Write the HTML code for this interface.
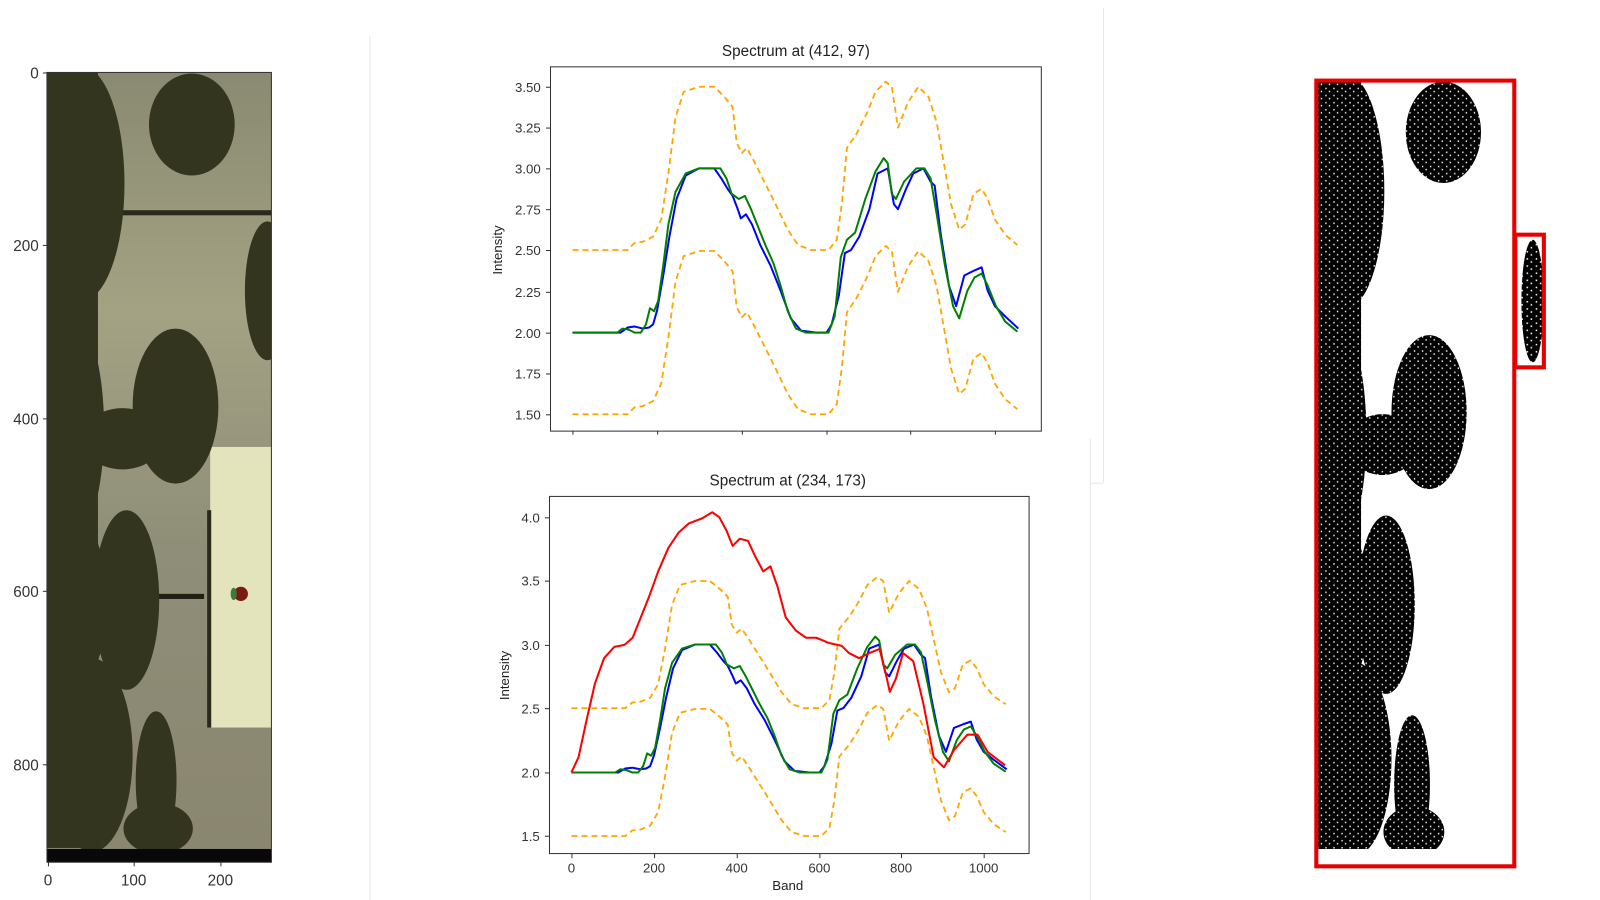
<!DOCTYPE html>
<html><head><meta charset="utf-8"><style>
html,body{margin:0;padding:0;background:#fff;}
svg{display:block;font-family:"Liberation Sans","DejaVu Sans",sans-serif;}
</style></head><body>
<svg width="1600" height="900" viewBox="0 0 1600 900" xmlns="http://www.w3.org/2000/svg">
<defs>
<g id="leaves">
  <ellipse cx="80" cy="180" rx="42" ry="115"/>
  <ellipse cx="188" cy="122" rx="42" ry="50"/>
  <ellipse cx="172" cy="398" rx="42" ry="76"/>
  <ellipse cx="124" cy="588" rx="32" ry="88"/>
  <ellipse cx="90" cy="740" rx="40" ry="95"/>
  <ellipse cx="153" cy="765" rx="20" ry="68"/>
  <ellipse cx="155" cy="812" rx="34" ry="25"/>
  <ellipse cx="70" cy="420" rx="32" ry="110"/>
  <ellipse cx="75" cy="590" rx="30" ry="80"/>
  <rect x="46" y="71" width="50" height="760"/>
  <ellipse cx="120" cy="430" rx="40" ry="30"/>
</g>
<clipPath id="cl"><rect x="46" y="71" width="220" height="774"/></clipPath>
<clipPath id="cr"><rect x="1290" y="79" width="193" height="769"/></clipPath>
<pattern id="speck" width="9" height="7" patternUnits="userSpaceOnUse">
  <rect width="9" height="7" fill="#000"/>
  <rect x="2" y="1" width="1.5" height="1.5" fill="#fff"/>
  <rect x="6" y="4" width="1.5" height="1.5" fill="#fff"/>
</pattern>
<linearGradient id="bg" x1="0" y1="0" x2="0" y2="1">
  <stop offset="0" stop-color="#8a8a72"/><stop offset="0.3" stop-color="#a3a283"/>
  <stop offset="0.6" stop-color="#8f8e78"/><stop offset="1" stop-color="#8a8670"/>
</linearGradient>
</defs>
<g transform="scale(1.0204)">

<g stroke="#e6e6e6" stroke-width="1">
<line x1="362.5" y1="35" x2="362.5" y2="882"/>
<line x1="1081.5" y1="8" x2="1081.5" y2="473"/>
<line x1="1068" y1="473.5" x2="1081" y2="473.5"/>
<line x1="1068.5" y1="430" x2="1068.5" y2="882"/>
</g>

<!-- LEFT IMAGE -->
<g>
<g clip-path="url(#cl)">
<rect x="46" y="71" width="220" height="774" fill="url(#bg)"/>
<rect x="112" y="206" width="154" height="5" fill="#2a2a1c"/>
<rect x="206" y="438" width="60" height="275" fill="#e4e4bc"/>
<rect x="203" y="500" width="4" height="213" fill="#2a2a1c"/>
<rect x="138" y="582" width="62" height="5" fill="#1f1f14"/>
<g fill="#34351f"><use href="#leaves"/><ellipse cx="262" cy="285" rx="22" ry="68"/></g>
<circle cx="236" cy="582" r="7" fill="#7a1a14"/>
<ellipse cx="229" cy="582" rx="3" ry="6" fill="#3c7a3a"/>
<rect x="46" y="832" width="220" height="13" fill="#080808"/>
</g>
<rect x="46" y="71" width="220" height="774" fill="none" stroke="#333" stroke-width="1"/>
<g stroke="#333" stroke-width="1">
<line x1="42" y1="71.5" x2="46" y2="71.5"/><line x1="42" y1="240.5" x2="46" y2="240.5"/>
<line x1="42" y1="410.5" x2="46" y2="410.5"/><line x1="42" y1="579.5" x2="46" y2="579.5"/>
<line x1="42" y1="749.5" x2="46" y2="749.5"/>
<line x1="47.5" y1="845" x2="47.5" y2="849"/><line x1="131.5" y1="845" x2="131.5" y2="849"/>
<line x1="216.5" y1="845" x2="216.5" y2="849"/>
</g>
<g font-size="15" fill="#333" text-anchor="end">
<text x="38" y="77">0</text><text x="38" y="246">200</text><text x="38" y="416">400</text>
<text x="38" y="585">600</text><text x="38" y="755">800</text>
</g>
<g font-size="15" fill="#333" text-anchor="middle">
<text x="47" y="868">0</text><text x="131" y="868">100</text><text x="216" y="868">200</text>
</g>
</g>

<!-- TOP CHART -->
<g>
<text x="780" y="55" font-size="15" fill="#222" text-anchor="middle">Spectrum at (412, 97)</text>
<rect x="539.5" y="65.5" width="481" height="357" fill="#fff" stroke="#333" stroke-width="1"/>
<g stroke="#333"><line x1="535" y1="85.5" x2="539" y2="85.5"/><line x1="535" y1="125.5" x2="539" y2="125.5"/>
<line x1="535" y1="165.5" x2="539" y2="165.5"/><line x1="535" y1="205.5" x2="539" y2="205.5"/>
<line x1="535" y1="245.5" x2="539" y2="245.5"/><line x1="535" y1="286.5" x2="539" y2="286.5"/>
<line x1="535" y1="326.5" x2="539" y2="326.5"/><line x1="535" y1="366.5" x2="539" y2="366.5"/>
<line x1="535" y1="406.5" x2="539" y2="406.5"/>
<line x1="561.5" y1="422" x2="561.5" y2="426"/><line x1="644.5" y1="422" x2="644.5" y2="426"/>
<line x1="727.5" y1="422" x2="727.5" y2="426"/><line x1="810.5" y1="422" x2="810.5" y2="426"/>
<line x1="892.5" y1="422" x2="892.5" y2="426"/><line x1="975.5" y1="422" x2="975.5" y2="426"/></g>
<g font-size="13" fill="#333" text-anchor="end">
<text x="530" y="90">3.50</text><text x="530" y="130">3.25</text><text x="530" y="170">3.00</text>
<text x="530" y="210">2.75</text><text x="530" y="250">2.50</text><text x="530" y="291">2.25</text>
<text x="530" y="331">2.00</text><text x="530" y="371">1.75</text><text x="530" y="411">1.50</text>
</g>
<text transform="translate(492,245) rotate(-90)" font-size="13" fill="#222" text-anchor="middle">Intensity</text>
</g>

<g id="series">
<polyline id="up" fill="none" stroke="#ffa500" stroke-width="1.8" stroke-dasharray="6,4" vector-effect="non-scaling-stroke" stroke-linejoin="round"
 points="561,245 615,245 622,238 630,237 640,232 648,215 655,170 662,115 670,90 685,85 700,85 710,95 718,105 722,140 727,150 732,145 740,160 750,180 760,200 772,225 782,240 795,245 812,245 820,235 825,200 830,145 840,130 850,110 858,90 868,80 874,85 880,125 890,100 900,85 910,95 918,120 925,160 932,200 940,225 946,220 954,190 962,185 968,195 975,215 985,230 997,240"/>
<polyline id="lo" fill="none" stroke="#ffa500" stroke-width="1.8" stroke-dasharray="6,4" vector-effect="non-scaling-stroke" stroke-linejoin="round"
 points="561,406 615,406 622,399 630,398 640,393 648,376 655,331 662,276 670,251 685,246 700,246 710,256 718,266 722,301 727,311 732,306 740,321 750,341 760,361 772,386 782,401 795,406 812,406 820,396 825,361 830,306 840,291 850,271 858,251 868,241 874,246 880,286 890,261 900,246 910,256 918,281 925,321 932,361 940,386 946,381 954,351 962,346 968,356 975,376 985,391 997,401"/>
<polyline id="bl" fill="none" stroke="#0000ff" stroke-width="2" vector-effect="non-scaling-stroke" stroke-linejoin="round"
 points="561,326 608,326 615,321 622,320 630,322 636,321 640,318 644,304 650,270 656,232 663,195 672,172 685,165 700,165 707,175 713,185 718,192 723,205 726,214 731,210 737,220 745,240 755,260 765,285 775,312 785,324 800,326 810,326 815,318 822,290 828,248 834,245 842,232 852,205 860,170 870,165 876,200 880,205 888,185 895,170 905,165 912,178 916,182 922,230 930,280 937,300 945,270 955,265 962,262 968,285 975,300 985,310 998,322"/>
<polyline id="gr" fill="none" stroke="#008000" stroke-width="2" vector-effect="non-scaling-stroke" stroke-linejoin="round"
 points="561,326 605,326 610,322 616,323 622,326 628,326 633,318 637,302 641,305 645,295 650,260 655,220 662,188 672,170 685,165 706,165 712,175 717,190 724,195 730,192 736,205 742,220 750,240 758,258 765,280 772,305 780,322 790,326 812,326 818,310 824,252 830,235 838,228 848,195 858,168 866,155 870,160 874,190 878,195 886,178 898,165 906,165 912,175 918,210 926,260 934,300 940,312 948,285 955,272 962,268 968,280 976,300 985,315 997,325"/>
</g>

<!-- BOTTOM CHART -->
<g>
<text x="772" y="476" font-size="15" fill="#222" text-anchor="middle">Spectrum at (234, 173)</text>
<rect x="538.5" y="486.5" width="470" height="350" fill="#fff" stroke="#333" stroke-width="1"/>
<g stroke="#333"><line x1="534" y1="507.5" x2="538" y2="507.5"/><line x1="534" y1="569.5" x2="538" y2="569.5"/>
<line x1="534" y1="632.5" x2="538" y2="632.5"/><line x1="534" y1="694.5" x2="538" y2="694.5"/>
<line x1="534" y1="757.5" x2="538" y2="757.5"/><line x1="534" y1="819.5" x2="538" y2="819.5"/>
<line x1="560.5" y1="837" x2="560.5" y2="841"/><line x1="641.5" y1="837" x2="641.5" y2="841"/>
<line x1="722.5" y1="837" x2="722.5" y2="841"/><line x1="803.5" y1="837" x2="803.5" y2="841"/>
<line x1="883.5" y1="837" x2="883.5" y2="841"/><line x1="964.5" y1="837" x2="964.5" y2="841"/></g>
<g font-size="13" fill="#333" text-anchor="end">
<text x="529" y="512">4.0</text><text x="529" y="574">3.5</text><text x="529" y="637">3.0</text>
<text x="529" y="699">2.5</text><text x="529" y="762">2.0</text><text x="529" y="824">1.5</text>
</g>
<g font-size="13" fill="#333" text-anchor="middle">
<text x="560" y="855">0</text><text x="641" y="855">200</text><text x="722" y="855">400</text>
<text x="803" y="855">600</text><text x="883" y="855">800</text><text x="964" y="855">1000</text>
</g>
<text x="772" y="872" font-size="13" fill="#222" text-anchor="middle">Band</text>
<text transform="translate(499,662) rotate(-90)" font-size="13" fill="#222" text-anchor="middle">Intensity</text>
<g transform="matrix(0.976 0 0 0.7786 12.5 503.2)">
<use href="#up"/><use href="#lo"/><use href="#bl"/><use href="#gr"/>
</g>
<polyline fill="none" stroke="#ff0000" stroke-width="2" stroke-linejoin="round"
 points="560,757 567,742 575,705 583,670 592,645 602,634 612,632 620,625 628,605 636,585 645,560 655,537 665,522 675,513 688,508 698,502 705,507 712,520 718,535 725,528 733,530 740,545 748,560 755,555 762,575 770,605 780,618 790,625 800,625 812,630 825,633 832,640 842,645 852,640 862,636 868,660 872,678 878,665 885,640 895,648 905,690 915,742 925,752 935,735 948,720 958,720 968,737 985,750"/>
</g>

<!-- RIGHT MASK -->
<g>
<rect x="1290" y="79" width="193" height="769" fill="#fff"/>
<g clip-path="url(#cr)">
<g transform="translate(1290,79) scale(0.877,0.9935) translate(-46,-71)" fill="url(#speck)">
<use href="#leaves"/>
</g>
<rect x="1288" y="832" width="195" height="16" fill="#fff"/>
</g>
<ellipse cx="1502" cy="295" rx="11" ry="60" fill="url(#speck)"/>
<rect x="1485" y="230" width="28" height="130" fill="none" stroke="#e60000" stroke-width="4"/>
<rect x="1290" y="79" width="194" height="770" fill="none" stroke="#e60000" stroke-width="4"/>
</g>
</g>
</svg>
</body></html>
